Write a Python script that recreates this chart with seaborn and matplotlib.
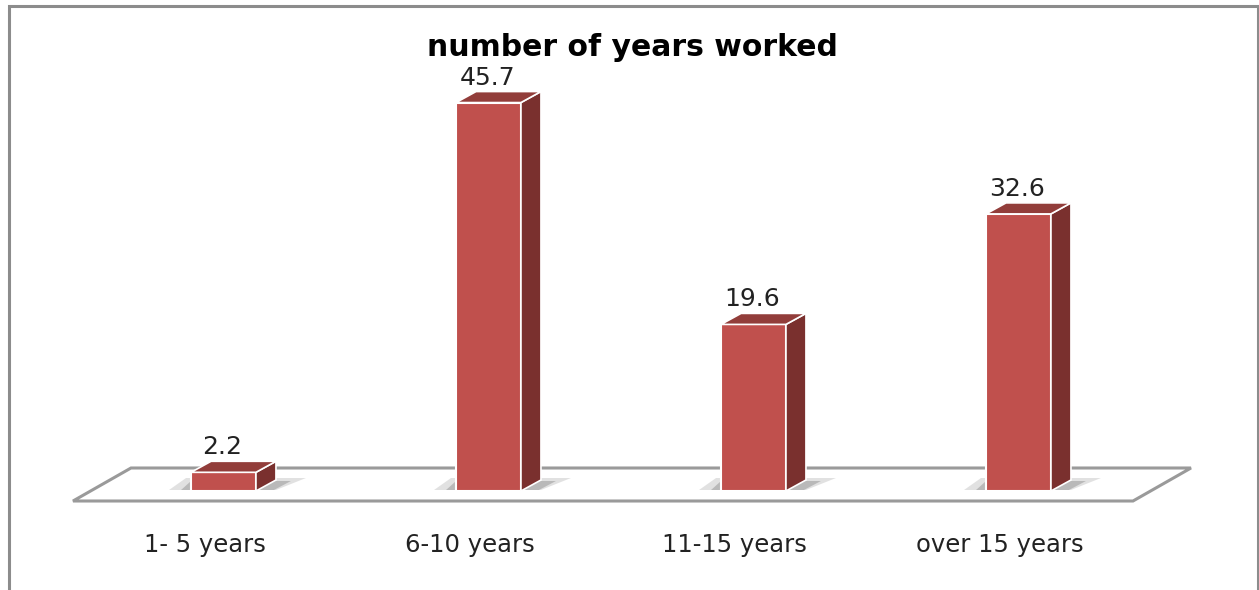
import matplotlib
matplotlib.use("Agg")
import matplotlib.pyplot as plt
import seaborn as sns
import pandas as pd
import numpy as np
from matplotlib.patches import Polygon, Rectangle
from matplotlib.transforms import ScaledTranslation, IdentityTransform

categories = ["1- 5 years", "6-10 years", "11-15 years", "over 15 years"]
values = [2.2, 45.7, 19.6, 32.6]
title = "number of years worked"

FRONT = "#C0504D"
TOP = "#923D3A"
SIDE = "#7A302E"

sns.set_theme(style="white")
plt.rcParams["font.family"] = ["DejaVu Sans"]

W, H, DPI = 1259, 590, 100
fig = plt.figure(figsize=(W / DPI, H / DPI), dpi=DPI)

ax_left_px = 91.0
ax_w_px = 1060.0
zero_px = 491.0
px_per_unit = 8.5
ylim_top = 50
ax_h_px = ylim_top * px_per_unit
ax = fig.add_axes([ax_left_px / W, (H - zero_px) / H, ax_w_px / W, ax_h_px / H])

df = pd.DataFrame({"category": categories, "value": values})
sns.barplot(data=df, x="category", y="value", color=FRONT, saturation=1,
            width=0.245, ax=ax, edgecolor="white", linewidth=1.5, zorder=3)
ax.set_xlim(-0.5, 3.5)
ax.set_ylim(0, ylim_top)
for s in ax.spines.values():
    s.set_visible(False)
ax.set_yticks([])
ax.set_xlabel("")
ax.set_ylabel("")
ax.tick_params(axis="x", length=0, pad=30, labelsize=17.5, labelcolor="#222222")
for lab in ax.get_xticklabels():
    lab.set_transform(lab.get_transform() + ScaledTranslation(-19 / DPI, 0, fig.dpi_scale_trans))

ID = IdentityTransform()

def to_disp(x, y):
    return ax.transData.transform((x, y))

def add_poly(pts, **kw):
    p = Polygon(pts, closed=True, transform=ID, clip_on=False, **kw)
    ax.add_patch(p)
    return p

# floor
front_l = to_disp(-0.5, 0) + np.array([-18, -10])
front_r = to_disp(3.5, 0) + np.array([-18, -10])
depth = np.array([58, 33])
add_poly([front_l, front_r, front_r + depth, front_l + depth],
         facecolor="white", edgecolor="#9a9a9a", linewidth=2.2, zorder=1)

bars = list(ax.patches)[:len(values)]
bd = np.array([20, 11])
for p in bars:
    x0, y0 = p.get_x(), p.get_y()
    w, h = p.get_width(), p.get_height()
    bl = to_disp(x0, y0)
    br = to_disp(x0 + w, y0)
    tl = to_disp(x0, y0 + h)
    tr = to_disp(x0 + w, y0 + h)
    # soft shadow behind the bar
    add_poly([bl + np.array([-22, 1]), br + np.array([20, 1]),
              br + np.array([50, 13]), bl + np.array([-5, 13])],
             facecolor="#bdbdbd", edgecolor="none", alpha=0.45, zorder=2)
    add_poly([bl + np.array([-10, 1]), br + np.array([18, 1]),
              br + np.array([35, 10]), bl + np.array([0, 10])],
             facecolor="#8a8a8a", edgecolor="none", alpha=0.45, zorder=2)
    add_poly([br, tr, tr + bd, br + bd], facecolor=SIDE,
             edgecolor="white", linewidth=1.2, zorder=4)
    add_poly([tl, tr, tr + bd, tl + bd], facecolor=TOP,
             edgecolor="white", linewidth=1.2, zorder=4)

for i, v in enumerate(values):
    ax.annotate(f"{v}", xy=(i, v), xytext=(-1, 18), textcoords="offset pixels",
                ha="center", va="baseline", fontsize=18, color="#222222",
                annotation_clip=False, zorder=6)

fig.text(632 / W, 1 - 47 / H, title, ha="center", va="center",
         fontsize=21.5, fontweight="bold", color="black")

frame = Rectangle((9 / W, -0.02), (1258 - 9) / W, (H - 6) / H + 0.02,
                  transform=fig.transFigure, facecolor="none",
                  edgecolor="#8c8c8c", linewidth=2.2, zorder=0)
fig.patches.append(frame)

fig.savefig("out.png", dpi=DPI)
